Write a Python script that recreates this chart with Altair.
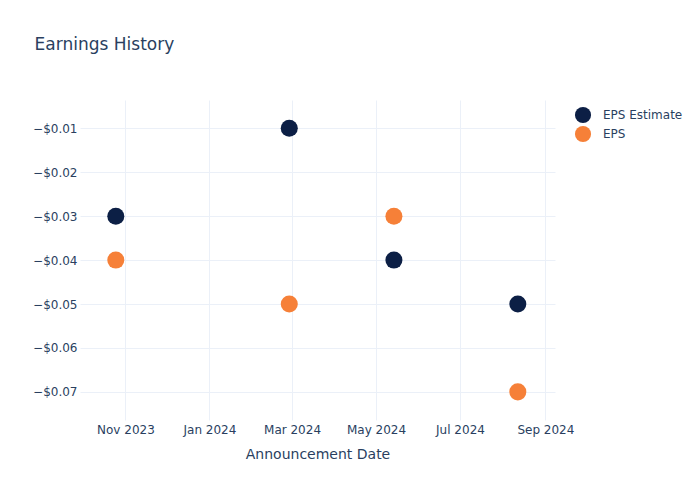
import altair as alt
import pandas as pd

dates = ["2023-10-25", "2024-02-28", "2024-05-14", "2024-08-12"]
eps_estimate = [-0.03, -0.01, -0.04, -0.05]
eps_actual = [-0.04, -0.05, -0.03, -0.07]
series_names = ["EPS Estimate", "EPS"]
series_colors = ["#0c1f45", "#f68038"]
y_ticks = [-0.01, -0.02, -0.03, -0.04, -0.05, -0.06, -0.07]
x_ticks = [(2023, 11), (2024, 1), (2024, 3), (2024, 5), (2024, 7), (2024, 9)]

rows = []
for d, e, a in zip(dates, eps_estimate, eps_actual):
    rows.append({"date": d, "value": e, "series": series_names[0]})
    rows.append({"date": d, "value": a, "series": series_names[1]})
df = pd.DataFrame(rows)

FONT = "DejaVu Sans"
TXT = "#2a3f5f"
GRID = "#ebf0f8"

chart = alt.Chart(df).mark_circle(size=290, opacity=1).encode(
    x=alt.X(
        "date:T",
        title="Announcement Date",
        scale=alt.Scale(
            type="utc",
            domain=[alt.DateTime(year=2023, month=9, date=29, utc=True),
                    alt.DateTime(year=2024, month=9, date=8, utc=True)],
        ),
        axis=alt.Axis(
            values=[alt.DateTime(year=y, month=m, date=1, utc=True) for y, m in x_ticks],
            format="%b %Y",
            labelPadding=4,
            titlePadding=12,
        ),
    ),
    y=alt.Y(
        "value:Q",
        title=None,
        scale=alt.Scale(domain=[-0.0764, -0.00355], nice=False, zero=False),
        axis=alt.Axis(values=y_ticks, format="$.2f", labelPadding=3),
    ),
    color=alt.Color(
        "series:N",
        scale=alt.Scale(domain=series_names, range=series_colors),
        legend=alt.Legend(
            title=None,
            orient="none",
            legendX=494,
            legendY=6,
            symbolSize=260,
            symbolType="circle",
            labelFontSize=12,
            labelColor=TXT,
            labelFont=FONT,
            rowPadding=1,
            labelOffset=11,
        ),
    ),
).properties(
    width=475,
    height=320,
    title=alt.TitleParams(
        "Earnings History",
        anchor="start",
        dx=2,
        offset=46,
        fontSize=17,
        fontWeight="normal",
        color=TXT,
        font=FONT,
    ),
    autosize=alt.AutoSizeParams(type="none"),
    padding={"left": 80, "top": 100, "right": 145, "bottom": 80},
).configure_view(stroke=None).configure_axis(
    domain=False,
    ticks=False,
    grid=True,
    gridColor=GRID,
    gridWidth=1,
    labelFont=FONT,
    labelFontSize=12,
    labelColor=TXT,
    titleFont=FONT,
    titleFontSize=14,
    titleColor=TXT,
    titleFontWeight="normal",
)

chart.save("out.html", embed_options={"renderer": "svg", "actions": False})
